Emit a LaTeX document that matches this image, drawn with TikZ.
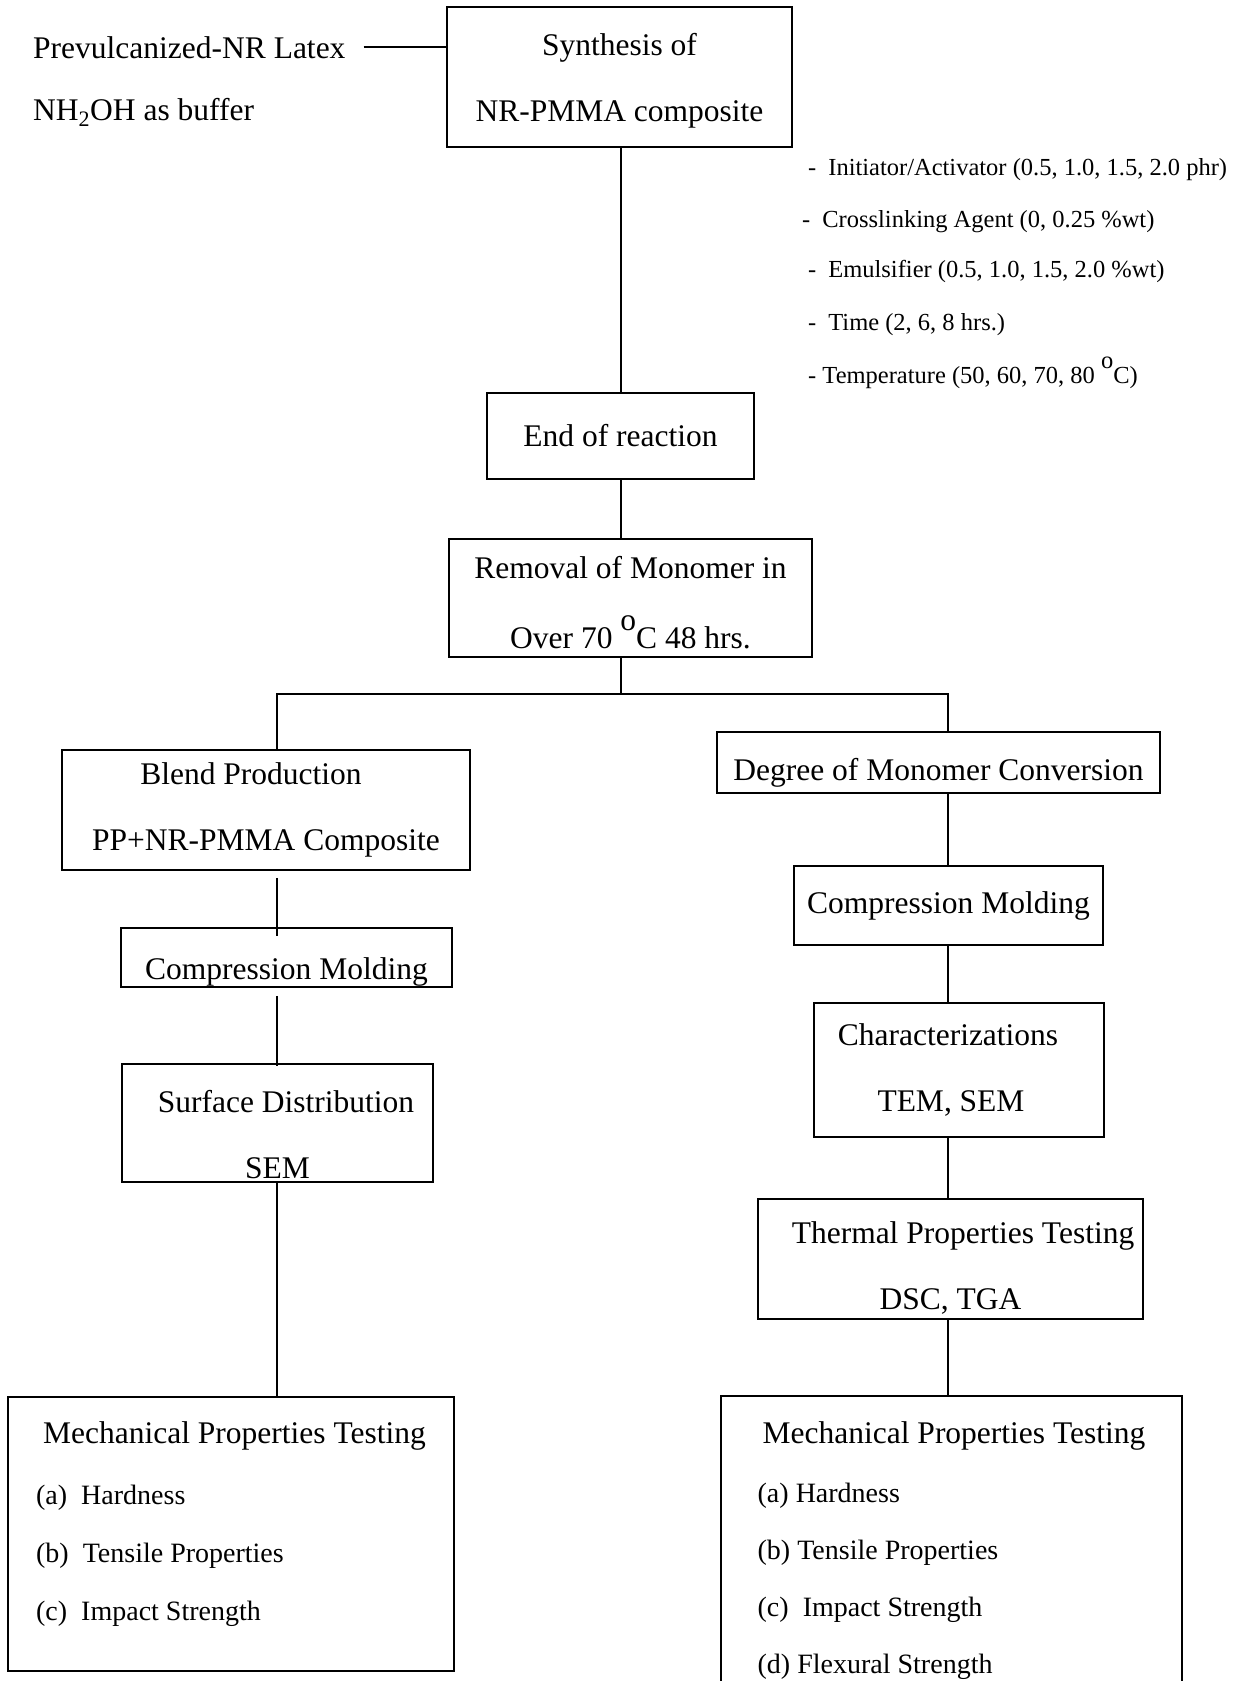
\documentclass[tikz,border=0pt]{standalone}
\usepackage{fontspec}
\setmainfont{Liberation Serif}
\usetikzlibrary{positioning}

\newcommand{\bigtxt}{\fontsize{31.5}{66}\selectfont}
\newcommand{\listtxt}{\fontsize{28}{58}\selectfont}
\newcommand{\notetxt}{\fontsize{24.5}{30}\selectfont}
\newcommand{\degc}{\raisebox{0.58em}{o}C}

\begin{document}
\begin{tikzpicture}[
  x=1pt, y=-1pt,
  box/.style={draw, line width=1.8pt, align=center, inner sep=0pt, font=\bigtxt},
  txt/.style={inner sep=0pt, anchor=base west, font=\bigtxt},
  note/.style={inner sep=0pt, anchor=base west, font=\notetxt},
  link/.style={line width=1.8pt}
]
\path[use as bounding box, fill=white] (0,0) rectangle (1250,1681);

% inputs and synthesis
\node[txt] (latex) at (33,58) {Prevulcanized-NR Latex};
\node[txt] (buffer) at (33,120) {NH\textsubscript{2}OH as buffer};
\node[box, minimum width=345, minimum height=140] (synth) at (619.5,77) {\rule{0pt}{29pt}Synthesis of\\NR-PMMA composite};
\node[box, minimum width=267, minimum height=86] (endr) at (620.5,436) {End of reaction};
\node[box, minimum width=363, minimum height=118] (remov) at (630.5,598) {\rule{0pt}{31pt}Removal of Monomer in\\[4pt]Over 70 \degc{} 48 hrs.};

% reaction variables
\node[note] (ini) at (808,175) {-\hspace{12pt}Initiator/Activator (0.5, 1.0, 1.5, 2.0 phr)};
\node[note] (xlink) at (802,227) {-\hspace{12pt}Crosslinking Agent (0, 0.25 \%wt)};
\node[note] (emul) at (808,277) {-\hspace{12pt}Emulsifier (0.5, 1.0, 1.5, 2.0 \%wt)};
\node[note] (time) at (808,330) {-\hspace{12pt}Time (2, 6, 8 hrs.)};
\node[note] (temp) at (808,383) {- Temperature (50, 60, 70, 80 \degc)};

\coordinate (fork) at (621,694);
\coordinate (lft) at (277,694);
\coordinate (rgt) at (948,694);

% blend branch
\node[box, minimum width=408, minimum height=120] (blend) at (266,810) {Blend Production\hspace*{30pt}\\PP+NR-PMMA Composite};
\node[box, minimum width=331, minimum height=59] (cml) at (286.5,957.5) {\rule{0pt}{50pt}Compression Molding};
\node[box, minimum width=311, minimum height=118] (surf) at (277.5,1123) {\rule{0pt}{46pt}\hspace*{17pt}Surface Distribution\\SEM};
\node[box, minimum width=446, minimum height=274, align=left, font=\listtxt] (mechL) at (231,1534) {\hspace*{7pt}{\bigtxt Mechanical Properties Testing}\\[3pt](a)~~Hardness\\(b)~~Tensile Properties\\(c)~~Impact Strength\rule[-25pt]{0pt}{0pt}};

% conversion branch
\node[box, minimum width=443, minimum height=61] (degree) at (938.5,762.5) {\rule{0pt}{42pt}Degree of Monomer Conversion};
\node[box, minimum width=309, minimum height=79] (cmr) at (948.5,905.5) {Compression Molding};
\node[box, minimum width=290, minimum height=134] (charz) at (959,1070) {Characterizations\hspace*{22pt}\\TEM, SEM\hspace*{16pt}};
\node[box, minimum width=385, minimum height=120] (therm) at (950.5,1259) {\rule{0pt}{40pt}\hspace*{25pt}Thermal Properties Testing\\DSC, TGA};
\node[box, minimum width=461, minimum height=309, align=left, font=\fontsize{28}{57}\selectfont] (mechR) at (951.5,1550.5) {\hspace*{5pt}{\bigtxt Mechanical Properties Testing}\\[1.5pt](a) Hardness\\(b) Tensile Properties\\(c)~~Impact Strength\\(d) Flexural Strength};

% connectors
\draw[link, shorten <=18pt] (latex.east) -- (latex.east -| synth.west);
\draw[link] (fork |- synth.south) -- (fork |- endr.north);
\draw[link] (fork |- endr.south) -- (fork |- remov.north);
\draw[link] (fork |- remov.south) -- (fork);
\draw[link] (lft |- blend.north) -- (lft) -- (rgt) -- (rgt |- degree.north);
\draw[link, shorten <=7pt, shorten >=-9pt] (lft |- blend.south) -- (lft |- cml.north);
\draw[link, shorten <=8pt, shorten >=-3pt] (lft |- cml.south) -- (lft |- surf.north);
\draw[link] (lft |- surf.south) -- (lft |- mechL.north);
\foreach \a/\b in {degree/cmr, cmr/charz, charz/therm, therm/mechR}
  \draw[link] (rgt |- \a.south) -- (rgt |- \b.north);
\end{tikzpicture}
\end{document}
